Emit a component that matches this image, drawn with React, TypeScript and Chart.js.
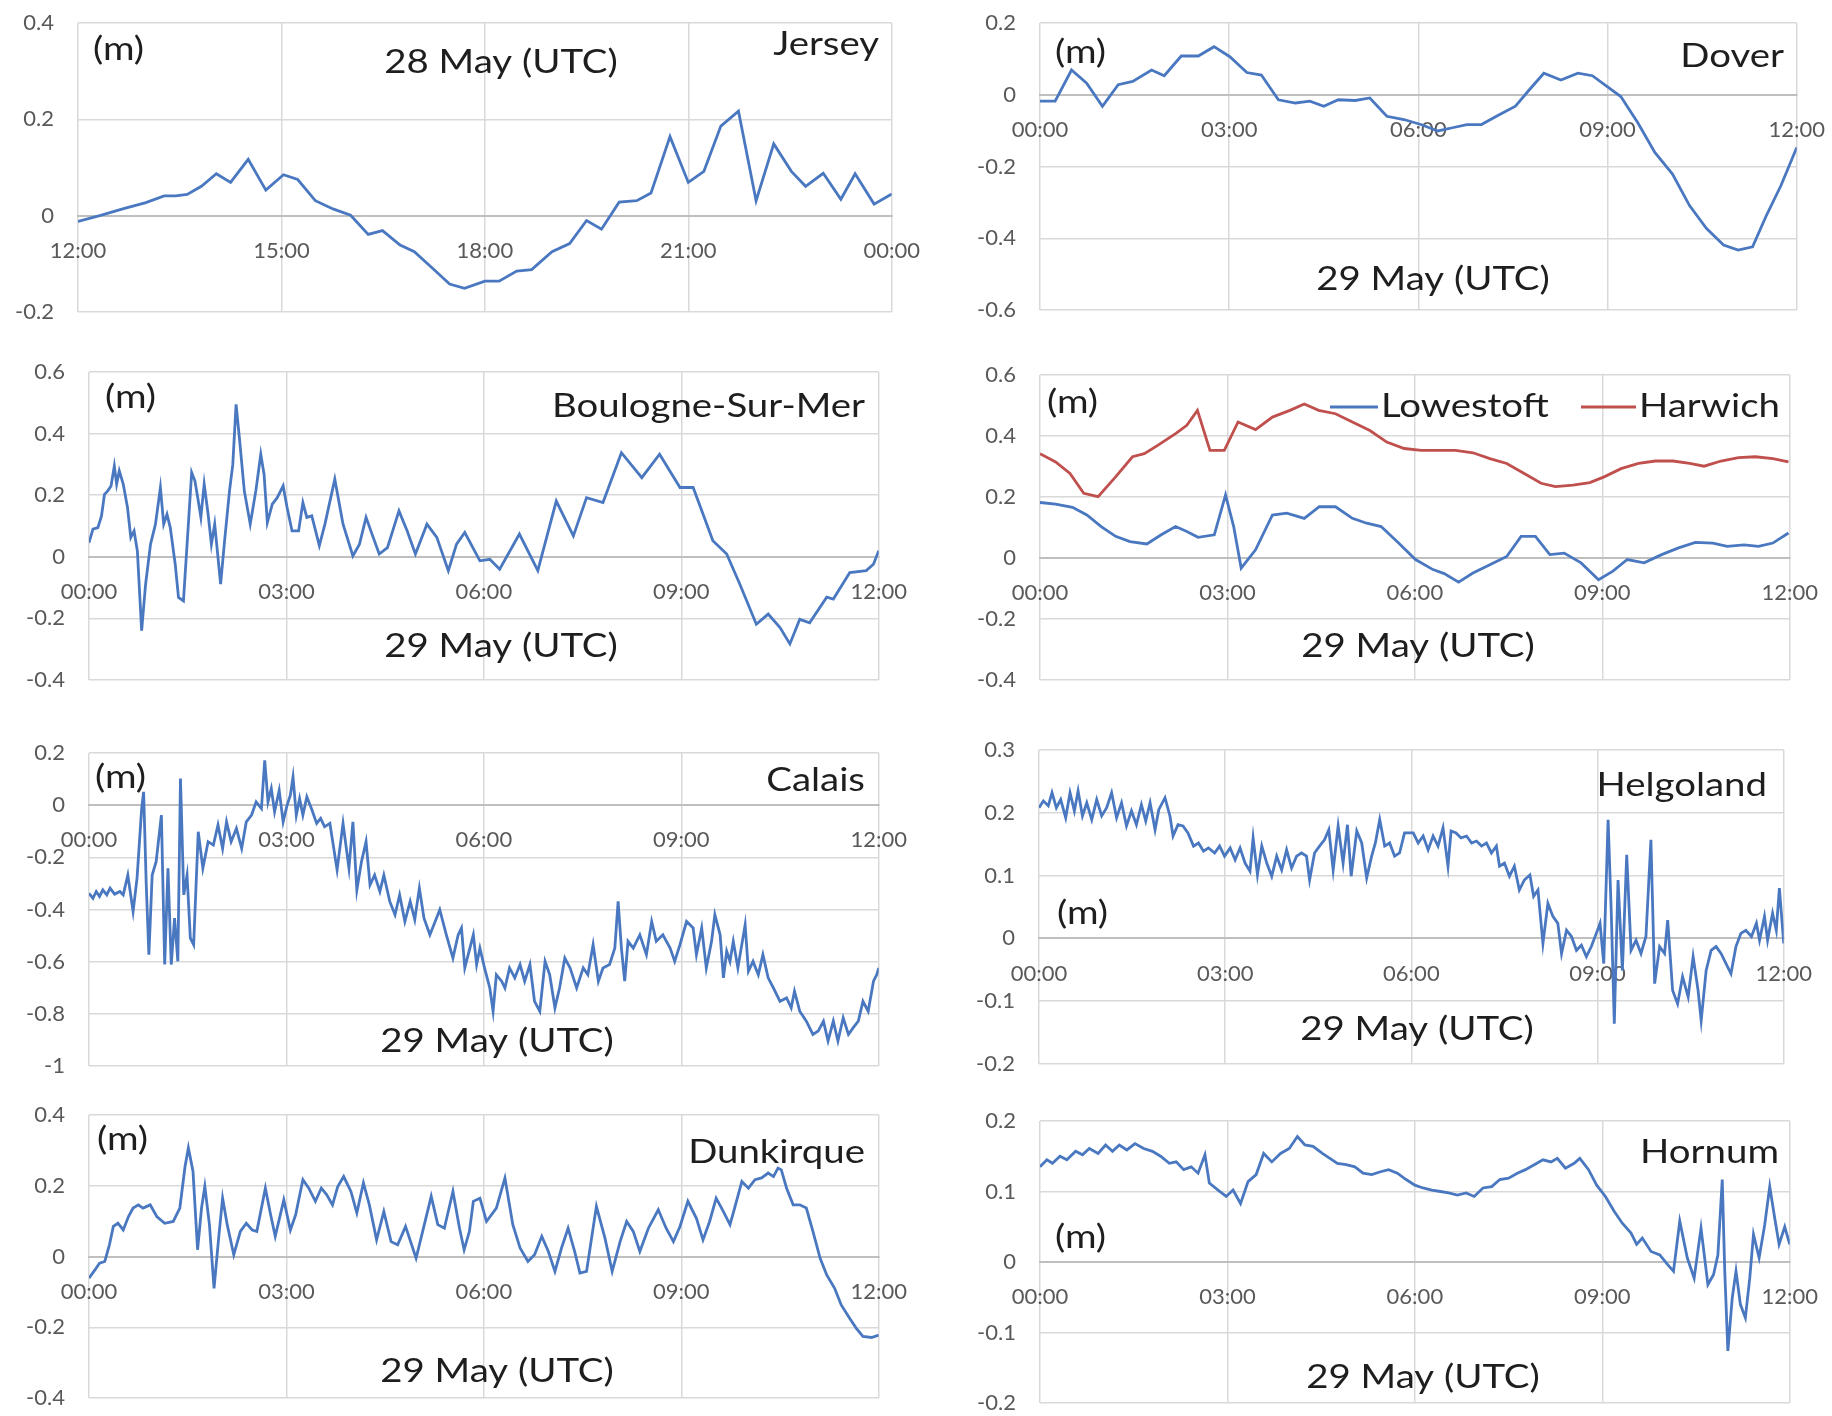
import React, { useEffect, useRef } from "react";
import { Chart, registerables } from "chart.js";

Chart.register(...registerables);

// ---------- tick labels ----------
const ticks28May = ["12:00", "15:00", "18:00", "21:00", "00:00"];
const ticks29May = ["00:00", "03:00", "06:00", "09:00", "12:00"];

// ---------- series: [hours since axis start, sea level (m)] ----------
const jersey = [
  [0, -0.012], [0.32, 0], [0.66, 0.014], [1.0, 0.027], [1.27, 0.041], [1.44, 0.041], [1.61, 0.044],
  [1.82, 0.061], [2.04, 0.087], [2.25, 0.069], [2.51, 0.117], [2.77, 0.053], [3.03, 0.085], [3.24, 0.075],
  [3.5, 0.031], [3.76, 0.014], [4.02, 0.001], [4.28, -0.039], [4.49, -0.031], [4.75, -0.061], [4.96, -0.075],
  [5.22, -0.108], [5.48, -0.142], [5.7, -0.151], [6.0, -0.136], [6.21, -0.136], [6.47, -0.115], [6.69, -0.112],
  [6.99, -0.075], [7.25, -0.058], [7.5, -0.01], [7.72, -0.028], [7.98, 0.028], [8.24, 0.031], [8.45, 0.047],
  [8.73, 0.164], [9.0, 0.069], [9.23, 0.092], [9.48, 0.186], [9.74, 0.217], [10.0, 0.031], [10.26, 0.149],
  [10.52, 0.092], [10.73, 0.061], [10.99, 0.088], [11.25, 0.034], [11.46, 0.087], [11.74, 0.024], [12.0, 0.045],
];

const dover = [
  [0, -0.018], [0.24, -0.018], [0.5, 0.069], [0.74, 0.032], [0.99, -0.032], [1.24, 0.028], [1.47, 0.037],
  [1.77, 0.069], [1.97, 0.053], [2.24, 0.108], [2.51, 0.108], [2.76, 0.134], [3.01, 0.106], [3.28, 0.062],
  [3.51, 0.055], [3.78, -0.014], [4.05, -0.023], [4.28, -0.018], [4.5, -0.032], [4.73, -0.014], [5.0, -0.016],
  [5.23, -0.009], [5.5, -0.06], [5.77, -0.069], [6.04, -0.083], [6.31, -0.101], [6.54, -0.092], [6.77, -0.083],
  [7.0, -0.083], [7.26, -0.058], [7.54, -0.032], [7.76, 0.014], [7.99, 0.06], [8.26, 0.041], [8.53, 0.06],
  [8.76, 0.053], [8.99, 0.023], [9.21, -0.005], [9.48, -0.078], [9.75, -0.161], [10.03, -0.221], [10.3, -0.309],
  [10.57, -0.373], [10.84, -0.419], [11.07, -0.433], [11.3, -0.424], [11.52, -0.336], [11.75, -0.253], [12.0, -0.147],
];

const boulogne = [
  [0, 0.046], [0.06, 0.09], [0.135, 0.095], [0.19, 0.133], [0.235, 0.203], [0.285, 0.214], [0.335, 0.23],
  [0.385, 0.295], [0.42, 0.236], [0.46, 0.279], [0.52, 0.236], [0.585, 0.16], [0.635, 0.063], [0.685, 0.084],
  [0.735, 0.019], [0.8, -0.24], [0.86, -0.089], [0.935, 0.041], [1.01, 0.106], [1.085, 0.225], [1.135, 0.106],
  [1.185, 0.138], [1.235, 0.095], [1.31, -0.024], [1.36, -0.132], [1.435, -0.143], [1.51, 0.106], [1.56, 0.274],
  [1.61, 0.246], [1.66, 0.182], [1.7, 0.128], [1.75, 0.236], [1.81, 0.138], [1.86, 0.041], [1.91, 0.106],
  [2.0, -0.089], [2.06, 0.052], [2.135, 0.214], [2.185, 0.3], [2.235, 0.495], [2.285, 0.387], [2.36, 0.214],
  [2.45, 0.106], [2.535, 0.214], [2.61, 0.333], [2.66, 0.268], [2.71, 0.111], [2.785, 0.171], [2.86, 0.192],
  [2.95, 0.23], [3.01, 0.16], [3.085, 0.084], [3.185, 0.084], [3.25, 0.176], [3.31, 0.128], [3.385, 0.133],
  [3.5, 0.036], [3.585, 0.106], [3.735, 0.252], [3.86, 0.106], [4.01, 0.003], [4.11, 0.041], [4.21, 0.128],
  [4.31, 0.068], [4.41, 0.009], [4.535, 0.03], [4.71, 0.149], [4.835, 0.084], [4.96, 0.009], [5.135, 0.106],
  [5.285, 0.063], [5.46, -0.045], [5.585, 0.041], [5.71, 0.079], [5.94, -0.013], [6.09, -0.008], [6.24, -0.04],
  [6.54, 0.074], [6.82, -0.045], [7.1, 0.181], [7.36, 0.068], [7.56, 0.192], [7.81, 0.176], [8.09, 0.338],
  [8.4, 0.257], [8.67, 0.333], [8.98, 0.225], [9.18, 0.225], [9.48, 0.052], [9.69, 0.009], [9.89, -0.089],
  [10.14, -0.219], [10.32, -0.186], [10.5, -0.23], [10.65, -0.283], [10.8, -0.203], [10.95, -0.214],
  [11.21, -0.131], [11.31, -0.137], [11.56, -0.051], [11.81, -0.045], [11.92, -0.024], [12.0, 0.02],
];

const lowestoft = [
  [0, 0.182], [0.25, 0.177], [0.52, 0.166], [0.75, 0.141], [0.98, 0.103], [1.21, 0.071], [1.44, 0.054],
  [1.71, 0.046], [1.94, 0.076], [2.17, 0.103], [2.35, 0.087], [2.53, 0.068], [2.79, 0.076], [2.97, 0.207],
  [3.1, 0.103], [3.22, -0.033], [3.45, 0.027], [3.72, 0.141], [3.95, 0.147], [4.23, 0.13], [4.47, 0.168],
  [4.73, 0.168], [5.0, 0.13], [5.23, 0.114], [5.46, 0.103], [5.74, 0.049], [6.01, -0.005], [6.29, -0.038],
  [6.47, -0.051], [6.7, -0.079], [6.93, -0.049], [7.2, -0.022], [7.47, 0.005], [7.7, 0.071], [7.93, 0.071],
  [8.16, 0.011], [8.39, 0.016], [8.66, -0.016], [8.94, -0.071], [9.17, -0.043], [9.4, -0.005], [9.67, -0.016],
  [9.95, 0.011], [10.22, 0.033], [10.49, 0.051], [10.77, 0.049], [11.0, 0.038], [11.27, 0.043], [11.5, 0.038],
  [11.73, 0.049], [11.98, 0.082],
];

const harwich = [
  [0, 0.342], [0.25, 0.315], [0.48, 0.277], [0.7, 0.212], [0.93, 0.201], [1.21, 0.266], [1.48, 0.332],
  [1.67, 0.342], [1.89, 0.37], [2.17, 0.408], [2.35, 0.435], [2.52, 0.484], [2.72, 0.353], [2.95, 0.353],
  [3.17, 0.446], [3.45, 0.421], [3.72, 0.462], [4.0, 0.484], [4.23, 0.505], [4.46, 0.484], [4.73, 0.473],
  [5.0, 0.446], [5.28, 0.418], [5.55, 0.38], [5.83, 0.359], [6.1, 0.353], [6.38, 0.353], [6.65, 0.353],
  [6.93, 0.345], [7.2, 0.326], [7.47, 0.31], [7.75, 0.277], [8.02, 0.245], [8.25, 0.234], [8.53, 0.239],
  [8.8, 0.247], [9.03, 0.266], [9.3, 0.293], [9.58, 0.31], [9.85, 0.318], [10.13, 0.318], [10.4, 0.31],
  [10.63, 0.301], [10.9, 0.318], [11.18, 0.329], [11.45, 0.332], [11.73, 0.326], [11.98, 0.315],
];

const calais = [
  [0, -0.338], [0.06, -0.357], [0.11, -0.331], [0.16, -0.35], [0.21, -0.325], [0.27, -0.344], [0.32, -0.318],
  [0.39, -0.341], [0.47, -0.331], [0.52, -0.344], [0.59, -0.268], [0.67, -0.408], [0.73, -0.28], [0.8, -0.013],
  [0.83, 0.051], [0.87, -0.306], [0.91, -0.573], [0.96, -0.268], [1.02, -0.217], [1.1, -0.038], [1.15, -0.611],
  [1.2, -0.242], [1.25, -0.611], [1.3, -0.433], [1.35, -0.599], [1.39, 0.102], [1.44, -0.344], [1.49, -0.268],
  [1.54, -0.51], [1.59, -0.535], [1.66, -0.102], [1.73, -0.242], [1.81, -0.14], [1.89, -0.153], [1.96, -0.076],
  [2.03, -0.166], [2.09, -0.064], [2.16, -0.14], [2.24, -0.089], [2.32, -0.166], [2.39, -0.064], [2.47, -0.038],
  [2.54, 0.013], [2.62, -0.013], [2.67, 0.172], [2.72, 0.013], [2.77, 0.064], [2.82, -0.025], [2.89, 0.057],
  [2.95, -0.064], [3.01, 0], [3.06, 0.038], [3.1, 0.108], [3.15, -0.038], [3.2, 0.025], [3.25, -0.038],
  [3.31, 0.032], [3.38, -0.013], [3.46, -0.07], [3.52, -0.051], [3.58, -0.083], [3.66, -0.07], [3.77, -0.248],
  [3.86, -0.07], [3.95, -0.242], [4.01, -0.064], [4.07, -0.325], [4.14, -0.217], [4.21, -0.14], [4.27, -0.306],
  [4.34, -0.268], [4.42, -0.331], [4.48, -0.268], [4.57, -0.369], [4.65, -0.42], [4.72, -0.344], [4.8, -0.446],
  [4.88, -0.369], [4.95, -0.439], [5.02, -0.318], [5.09, -0.433], [5.18, -0.497], [5.26, -0.446], [5.33, -0.401],
  [5.43, -0.497], [5.53, -0.586], [5.61, -0.497], [5.66, -0.471], [5.71, -0.624], [5.84, -0.497], [5.89, -0.611],
  [5.94, -0.548], [6.01, -0.624], [6.09, -0.701], [6.14, -0.79], [6.19, -0.65], [6.27, -0.675], [6.32, -0.701],
  [6.39, -0.624], [6.47, -0.662], [6.55, -0.611], [6.62, -0.675], [6.7, -0.611], [6.77, -0.752], [6.85, -0.79],
  [6.93, -0.599], [7.0, -0.65], [7.08, -0.777], [7.15, -0.701], [7.23, -0.586], [7.31, -0.624], [7.41, -0.701],
  [7.51, -0.624], [7.58, -0.65], [7.66, -0.535], [7.74, -0.675], [7.81, -0.624], [7.91, -0.611], [7.99, -0.548],
  [8.04, -0.369], [8.09, -0.548], [8.14, -0.675], [8.19, -0.522], [8.27, -0.548], [8.37, -0.497], [8.47, -0.573],
  [8.55, -0.446], [8.62, -0.522], [8.72, -0.497], [8.83, -0.548], [8.9, -0.599], [8.98, -0.535], [9.08, -0.446],
  [9.18, -0.471], [9.23, -0.573], [9.31, -0.471], [9.38, -0.624], [9.46, -0.522], [9.51, -0.42], [9.59, -0.497],
  [9.64, -0.662], [9.69, -0.56], [9.74, -0.599], [9.79, -0.522], [9.86, -0.624], [9.97, -0.459], [10.02, -0.637],
  [10.09, -0.599], [10.17, -0.65], [10.24, -0.573], [10.32, -0.662], [10.4, -0.701], [10.5, -0.752], [10.6, -0.739],
  [10.67, -0.777], [10.72, -0.713], [10.8, -0.79], [10.9, -0.828], [11.0, -0.879], [11.08, -0.866], [11.16, -0.828],
  [11.23, -0.904], [11.31, -0.828], [11.38, -0.904], [11.46, -0.815], [11.54, -0.879], [11.61, -0.854],
  [11.69, -0.828], [11.76, -0.752], [11.84, -0.79], [11.92, -0.675], [11.97, -0.65], [12.0, -0.624],
];

const helgoland = [
  [0, 0.208], [0.07, 0.219], [0.15, 0.211], [0.21, 0.232], [0.28, 0.208], [0.35, 0.221], [0.43, 0.192],
  [0.5, 0.232], [0.57, 0.203], [0.63, 0.235], [0.7, 0.195], [0.77, 0.216], [0.85, 0.189], [0.93, 0.221],
  [1.01, 0.195], [1.09, 0.208], [1.17, 0.232], [1.25, 0.192], [1.33, 0.216], [1.41, 0.179], [1.49, 0.203],
  [1.57, 0.181], [1.65, 0.213], [1.72, 0.187], [1.79, 0.216], [1.87, 0.173], [1.93, 0.205], [2.03, 0.224],
  [2.11, 0.195], [2.16, 0.163], [2.24, 0.181], [2.32, 0.179], [2.4, 0.168], [2.49, 0.147], [2.57, 0.152],
  [2.65, 0.139], [2.73, 0.144], [2.83, 0.136], [2.91, 0.147], [2.99, 0.131], [3.08, 0.144], [3.16, 0.125],
  [3.24, 0.144], [3.32, 0.12], [3.4, 0.107], [3.45, 0.16], [3.52, 0.101], [3.59, 0.147], [3.67, 0.12],
  [3.75, 0.099], [3.83, 0.131], [3.91, 0.109], [3.99, 0.141], [4.07, 0.112], [4.15, 0.131], [4.23, 0.136],
  [4.31, 0.131], [4.36, 0.093], [4.44, 0.136], [4.52, 0.147], [4.6, 0.157], [4.67, 0.173], [4.74, 0.109],
  [4.82, 0.179], [4.9, 0.12], [4.97, 0.181], [5.03, 0.099], [5.12, 0.171], [5.2, 0.152], [5.28, 0.096],
  [5.36, 0.131], [5.42, 0.152], [5.49, 0.189], [5.57, 0.147], [5.65, 0.152], [5.73, 0.131], [5.81, 0.136],
  [5.89, 0.168], [6.03, 0.168], [6.11, 0.152], [6.19, 0.163], [6.27, 0.141], [6.35, 0.163], [6.43, 0.147],
  [6.51, 0.176], [6.59, 0.115], [6.64, 0.171], [6.72, 0.168], [6.8, 0.16], [6.89, 0.163], [6.97, 0.152],
  [7.05, 0.155], [7.13, 0.147], [7.21, 0.152], [7.29, 0.136], [7.37, 0.147], [7.42, 0.115], [7.5, 0.12],
  [7.58, 0.099], [7.66, 0.115], [7.74, 0.077], [7.82, 0.093], [7.91, 0.101], [7.97, 0.067], [8.04, 0.077],
  [8.12, -0.008], [8.2, 0.056], [8.28, 0.035], [8.36, 0.024], [8.42, -0.024], [8.5, 0.013], [8.58, 0.003],
  [8.66, -0.019], [8.74, -0.011], [8.82, -0.029], [8.9, -0.013], [8.98, 0.008], [9.04, 0.024], [9.1, -0.04],
  [9.17, 0.189], [9.22, 0.045], [9.27, -0.136], [9.33, 0.093], [9.4, -0.051], [9.47, 0.133], [9.54, -0.019],
  [9.62, -0.003], [9.7, -0.024], [9.78, 0.003], [9.86, 0.157], [9.92, -0.072], [10.0, -0.013], [10.08, -0.024],
  [10.13, 0.029], [10.21, -0.083], [10.29, -0.104], [10.37, -0.061], [10.46, -0.093], [10.54, -0.029],
  [10.62, -0.083], [10.67, -0.131], [10.75, -0.051], [10.83, -0.019], [10.91, -0.013], [10.99, -0.024],
  [11.07, -0.04], [11.15, -0.056], [11.23, -0.013], [11.31, 0.008], [11.39, 0.013], [11.48, 0.003],
  [11.56, 0.024], [11.61, -0.003], [11.69, 0.035], [11.74, -0.003], [11.82, 0.04], [11.88, 0.013],
  [11.93, 0.08], [12.0, -0.008],
];

const dunkirque = [
  [0, -0.061], [0.09, -0.038], [0.16, -0.019], [0.24, -0.014], [0.31, 0.033], [0.37, 0.085], [0.44, 0.094],
  [0.52, 0.075], [0.6, 0.113], [0.67, 0.137], [0.75, 0.146], [0.82, 0.137], [0.93, 0.146], [1.03, 0.113],
  [1.15, 0.094], [1.28, 0.099], [1.38, 0.137], [1.46, 0.255], [1.51, 0.307], [1.58, 0.241], [1.65, 0.019],
  [1.71, 0.137], [1.76, 0.198], [1.83, 0.09], [1.9, -0.09], [1.97, 0.052], [2.03, 0.165], [2.1, 0.09],
  [2.2, 0.005], [2.3, 0.071], [2.39, 0.094], [2.48, 0.075], [2.55, 0.071], [2.68, 0.193], [2.76, 0.118],
  [2.83, 0.057], [2.96, 0.16], [3.06, 0.075], [3.14, 0.118], [3.25, 0.217], [3.34, 0.193], [3.44, 0.156],
  [3.53, 0.193], [3.61, 0.175], [3.7, 0.146], [3.78, 0.198], [3.87, 0.226], [3.98, 0.184], [4.07, 0.123],
  [4.17, 0.208], [4.26, 0.146], [4.37, 0.047], [4.48, 0.127], [4.59, 0.042], [4.69, 0.033], [4.81, 0.085],
  [4.97, -0.005], [5.07, 0.071], [5.2, 0.17], [5.3, 0.09], [5.4, 0.08], [5.53, 0.184], [5.63, 0.08],
  [5.7, 0.019], [5.78, 0.071], [5.84, 0.156], [5.94, 0.165], [6.04, 0.099], [6.19, 0.137], [6.32, 0.222],
  [6.44, 0.09], [6.55, 0.024], [6.67, -0.014], [6.77, 0.005], [6.88, 0.057], [6.98, 0.014], [7.08, -0.042],
  [7.18, 0.024], [7.28, 0.08], [7.38, 0.014], [7.46, -0.047], [7.56, -0.042], [7.71, 0.142], [7.84, 0.052],
  [7.95, -0.042], [8.07, 0.042], [8.17, 0.099], [8.27, 0.071], [8.37, 0.014], [8.5, 0.08], [8.65, 0.132],
  [8.77, 0.08], [8.88, 0.042], [8.98, 0.085], [9.1, 0.156], [9.23, 0.108], [9.33, 0.047], [9.43, 0.099],
  [9.53, 0.165], [9.64, 0.127], [9.74, 0.09], [9.81, 0.137], [9.92, 0.212], [10.02, 0.193], [10.12, 0.217],
  [10.22, 0.222], [10.32, 0.236], [10.4, 0.226], [10.47, 0.25], [10.52, 0.245], [10.6, 0.193], [10.7, 0.146],
  [10.8, 0.146], [10.9, 0.137], [11.0, 0.071], [11.11, -0.005], [11.21, -0.052], [11.33, -0.09],
  [11.43, -0.137], [11.56, -0.175], [11.66, -0.203], [11.76, -0.226], [11.89, -0.229], [12.0, -0.222],
];

const hornum = [
  [0, 0.135], [0.11, 0.145], [0.2, 0.14], [0.32, 0.15], [0.43, 0.145], [0.57, 0.157], [0.68, 0.152],
  [0.79, 0.161], [0.93, 0.154], [1.05, 0.166], [1.16, 0.157], [1.27, 0.166], [1.39, 0.159], [1.52, 0.168],
  [1.66, 0.161], [1.8, 0.157], [1.93, 0.15], [2.07, 0.14], [2.18, 0.142], [2.3, 0.131], [2.42, 0.135],
  [2.53, 0.126], [2.64, 0.152], [2.71, 0.112], [2.85, 0.102], [2.98, 0.093], [3.09, 0.102], [3.21, 0.083],
  [3.33, 0.114], [3.46, 0.124], [3.58, 0.154], [3.71, 0.142], [3.85, 0.154], [3.99, 0.161], [4.12, 0.178],
  [4.24, 0.166], [4.37, 0.164], [4.52, 0.154], [4.64, 0.147], [4.76, 0.14], [4.9, 0.138], [5.04, 0.135],
  [5.17, 0.126], [5.31, 0.124], [5.45, 0.128], [5.58, 0.131], [5.72, 0.126], [5.86, 0.117], [6.0, 0.109],
  [6.13, 0.105], [6.27, 0.102], [6.41, 0.1], [6.54, 0.098], [6.68, 0.095], [6.82, 0.098], [6.95, 0.093],
  [7.09, 0.105], [7.23, 0.107], [7.36, 0.117], [7.5, 0.119], [7.64, 0.126], [7.77, 0.131], [7.91, 0.138],
  [8.05, 0.145], [8.18, 0.142], [8.28, 0.147], [8.41, 0.133], [8.55, 0.14], [8.64, 0.147], [8.78, 0.131],
  [8.91, 0.109], [9.05, 0.093], [9.19, 0.072], [9.32, 0.055], [9.46, 0.041], [9.55, 0.025], [9.64, 0.034],
  [9.78, 0.015], [9.92, 0.01], [10.05, -0.004], [10.14, -0.013], [10.24, 0.058], [10.36, 0.006],
  [10.47, -0.023], [10.58, 0.048], [10.69, -0.032], [10.78, -0.018], [10.85, 0.01], [10.92, 0.117],
  [10.96, -0.013], [11.01, -0.126], [11.08, -0.051], [11.14, -0.013], [11.21, -0.06], [11.29, -0.079],
  [11.36, -0.023], [11.42, 0.039], [11.51, 0.006], [11.6, 0.053], [11.68, 0.107], [11.76, 0.062],
  [11.83, 0.025], [11.92, 0.05], [12.0, 0.025],
];

// ---------- styling ----------
const FONT = "Lato, 'Open Sans', 'DejaVu Sans', sans-serif";
const BLUE = "#4a78c0";
const RED = "#c0504d";
const TEXT_COLOR = "#1e1e1e";
const TICK_COLOR = "#595959";
const GRID = "#d9d9d9";
const AXIS = "#bfbfbf";
const TITLE_SIZE = 32;
const TITLE_STRETCH = 1.2;
const TICK_SIZE = 22;

const PAD_L = 76;
const PAD_R = 50;
const PAD_T = 44;
const PAD_B = 44;

const panels = [
  {
    key: "jersey", plot: { l: 78, t: 23, r: 892, b: 312 }, yMin: -0.2, yMax: 0.4, yStep: 0.2, xLabels: ticks28May,
    series: [{ name: "Jersey", points: jersey, color: BLUE }],
    texts: [["(m)", 93, 50, "left"], ["28 May (UTC)", 501, 63, "center"], ["Jersey", 879, 45, "right"]],
  },
  {
    key: "dover", plot: { l: 1040, t: 23, r: 1797, b: 310 }, yMin: -0.6, yMax: 0.2, yStep: 0.2, xLabels: ticks29May,
    series: [{ name: "Dover", points: dover, color: BLUE }],
    texts: [["(m)", 1055, 53, "left"], ["Dover", 1784, 57, "right"], ["29 May (UTC)", 1433, 280, "center"]],
  },
  {
    key: "boulogne", plot: { l: 89, t: 372, r: 879, b: 680 }, yMin: -0.4, yMax: 0.6, yStep: 0.2, xLabels: ticks29May,
    series: [{ name: "Boulogne-Sur-Mer", points: boulogne, color: BLUE }],
    texts: [["(m)", 105, 398, "left"], ["Boulogne-Sur-Mer", 865, 407, "right"], ["29 May (UTC)", 501, 647, "center"]],
  },
  {
    key: "lowestoft", plot: { l: 1040, t: 375, r: 1790, b: 680 }, yMin: -0.4, yMax: 0.6, yStep: 0.2, xLabels: ticks29May,
    series: [
      { name: "Lowestoft", points: lowestoft, color: BLUE },
      { name: "Harwich", points: harwich, color: RED },
    ],
    texts: [["(m)", 1047, 403, "left"], ["29 May (UTC)", 1418, 647, "center"]],
    legend: [
      { name: "Lowestoft", color: BLUE, x1: 1330, x2: 1378, tx: 1381, y: 407 },
      { name: "Harwich", color: RED, x1: 1581, x2: 1636, tx: 1639, y: 407 },
    ],
  },
  {
    key: "calais", plot: { l: 89, t: 753, r: 879, b: 1066 }, yMin: -1, yMax: 0.2, yStep: 0.2, xLabels: ticks29May,
    series: [{ name: "Calais", points: calais, color: BLUE }],
    texts: [["(m)", 95, 778, "left"], ["Calais", 865, 781, "right"], ["29 May (UTC)", 497, 1042, "center"]],
  },
  {
    key: "helgoland", plot: { l: 1039, t: 750, r: 1784, b: 1064 }, yMin: -0.2, yMax: 0.3, yStep: 0.1, xLabels: ticks29May,
    series: [{ name: "Helgoland", points: helgoland, color: BLUE }],
    texts: [["(m)", 1057, 914, "left"], ["Helgoland", 1767, 786, "right"], ["29 May (UTC)", 1417, 1030, "center"]],
  },
  {
    key: "dunkirque", plot: { l: 89, t: 1115, r: 879, b: 1398 }, yMin: -0.4, yMax: 0.4, yStep: 0.2, xLabels: ticks29May,
    series: [{ name: "Dunkirque", points: dunkirque, color: BLUE }],
    texts: [["(m)", 97, 1140, "left"], ["Dunkirque", 865, 1153, "right"], ["29 May (UTC)", 497, 1372, "center"]],
  },
  {
    key: "hornum", plot: { l: 1040, t: 1121, r: 1790, b: 1403 }, yMin: -0.2, yMax: 0.2, yStep: 0.1, xLabels: ticks29May,
    series: [{ name: "Hornum", points: hornum, color: BLUE }],
    texts: [["(m)", 1055, 1238, "left"], ["Hornum", 1779, 1153, "right"], ["29 May (UTC)", 1423, 1378, "center"]],
  },
];

function fmtY(v: number) {
  const r = Math.round(v * 10) / 10;
  if (Math.abs(r) < 1e-9) return "0";
  return String(r);
}

function Panel({ cfg }: { cfg: any }) {
  const ref = useRef<HTMLCanvasElement>(null);
  const left = cfg.plot.l - PAD_L;
  const top = cfg.plot.t - PAD_T;
  const width = cfg.plot.r - cfg.plot.l + PAD_L + PAD_R;
  const height = cfg.plot.b - cfg.plot.t + PAD_T + PAD_B;

  useEffect(() => {
    const canvas = ref.current;
    if (!canvas) return;
    const textPlugin = {
      id: "panelText",
      afterDraw(chart: any) {
        const ctx = chart.ctx;
        ctx.save();
        ctx.font = `${TITLE_SIZE}px ${FONT}`;
        ctx.textBaseline = "middle";
        ctx.fillStyle = TEXT_COLOR;
        const drawText = (text: string, px: number, py: number, align: string) => {
          const w = ctx.measureText(text).width * TITLE_STRETCH;
          let x0 = px;
          if (align === "center") x0 = px - w / 2;
          else if (align === "right") x0 = px - w;
          ctx.save();
          ctx.translate(x0 - left, py - top);
          ctx.scale(TITLE_STRETCH, 1);
          ctx.textAlign = "left";
          ctx.fillText(text, 0, 0);
          ctx.restore();
        };
        for (const t of cfg.texts) drawText(t[0], t[1], t[2], t[3]);
        if (cfg.legend) {
          for (const item of cfg.legend) {
            ctx.save();
            ctx.strokeStyle = item.color;
            ctx.lineWidth = 3;
            ctx.beginPath();
            ctx.moveTo(item.x1 - left, item.y - top);
            ctx.lineTo(item.x2 - left, item.y - top);
            ctx.stroke();
            ctx.restore();
            drawText(item.name, item.tx, item.y, "left");
          }
        }
        ctx.restore();
      },
    };

    const chart = new Chart(canvas, {
      type: "line",
      data: {
        datasets: cfg.series.map((s: any) => ({
          label: s.name,
          data: s.points.map((p: number[]) => ({ x: p[0], y: p[1] })),
          borderColor: s.color,
          backgroundColor: s.color,
          borderWidth: 2.8,
          pointRadius: 0,
          tension: 0,
          fill: false,
        })),
      },
      options: {
        responsive: false,
        animation: false,
        devicePixelRatio: 1,
        layout: { padding: { left: 0, right: PAD_R, top: PAD_T, bottom: PAD_B } },
        plugins: { legend: { display: false }, tooltip: { enabled: false } },
        scales: {
          x: {
            type: "linear",
            min: 0,
            max: 12,
            position: { y: 0 },
            ticks: {
              stepSize: 3,
              autoSkip: false,
              maxRotation: 0,
              minRotation: 0,
              padding: 22,
              color: TICK_COLOR,
              font: { family: FONT, size: TICK_SIZE },
              callback: (v: any) => cfg.xLabels[Math.round(Number(v) / 3)],
            },
            grid: { color: GRID, lineWidth: 1.5, drawTicks: false },
            border: { display: true, color: AXIS, width: 2 },
          },
          y: {
            type: "linear",
            min: cfg.yMin,
            max: cfg.yMax,
            ticks: {
              stepSize: cfg.yStep,
              padding: 24,
              color: TICK_COLOR,
              font: { family: FONT, size: TICK_SIZE },
              callback: (v: any) => fmtY(Number(v)),
            },
            grid: {
              color: (c: any) => (c.tick && Math.abs(c.tick.value) < 1e-9 ? AXIS : GRID),
              lineWidth: (c: any) => (c.tick && Math.abs(c.tick.value) < 1e-9 ? 2 : 1.5),
              drawTicks: false,
            },
            border: { display: false },
            afterFit: (scale: any) => {
              scale.width = PAD_L;
            },
          },
        },
      } as any,
      plugins: [textPlugin],
    });
    return () => chart.destroy();
  }, []);

  return (
    <canvas
      ref={ref}
      width={width}
      height={height}
      style={{ position: "absolute", left, top, width, height }}
    />
  );
}

export default function App() {
  return (
    <div style={{ position: "absolute", left: 0, top: 0, width: 1832, height: 1416, background: "#ffffff", overflow: "hidden" }}>
      {panels.map((p) => (
        <Panel key={p.key} cfg={p} />
      ))}
    </div>
  );
}
